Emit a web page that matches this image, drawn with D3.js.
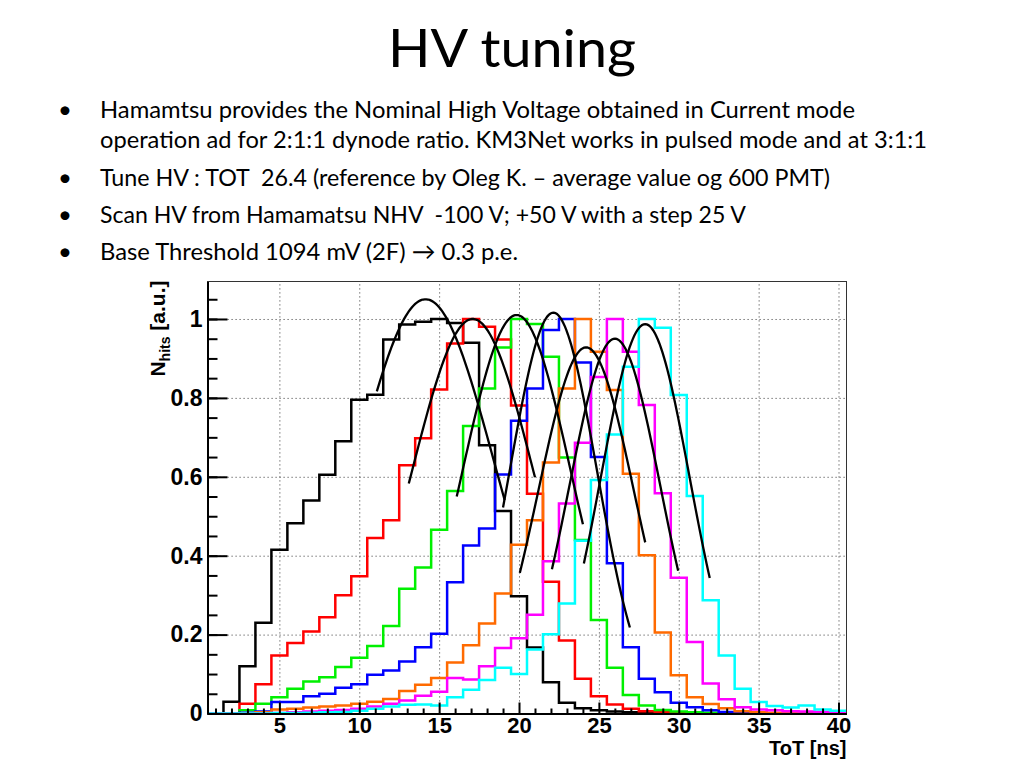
<!DOCTYPE html>
<html><head><meta charset="utf-8">
<script src="https://cdn.jsdelivr.net/npm/d3@7"></script>
<style>body{margin:0;background:#fff}svg{display:block}</style>
</head><body>
<svg id="c" width="1024" height="768"></svg>
<script>
// ---------- data ----------
const binCenters = [1,2,3,4,5,6,7,8,9,10,11,12,13,14,15,16,17,18,19,20,21,22,23,24,25,26,27,28,29,30,31,32,33,34,35,36,37,38,39,40];
const histBlack   = [0,0.03,0.12,0.23,0.415,0.482,0.54,0.605,0.69,0.795,0.808,0.948,0.986,0.993,1.0,0.99,0.94,0.68,0.513,0.297,0.167,0.079,0.027,0.013,0.008,0.005,0.003,0.002,0.001,0,0,0,0,0,0,0,0,0,0,0];
const histRed     = [0,0,0.025,0.074,0.147,0.179,0.208,0.244,0.3,0.348,0.445,0.49,0.629,0.698,0.821,0.938,1.0,0.98,0.948,0.781,0.557,0.334,0.185,0.088,0.044,0.023,0.012,0.006,0.003,0.002,0.001,0,0,0,0,0,0,0,0,0];
const histGreen   = [0,0,0.008,0.025,0.041,0.063,0.081,0.092,0.118,0.141,0.171,0.222,0.316,0.37,0.466,0.564,0.729,0.824,0.928,1.0,0.987,0.904,0.649,0.44,0.237,0.116,0.047,0.02,0.009,0.005,0.003,0.002,0.001,0,0,0,0,0,0,0];
const histBlue    = [0,0,0.002,0.005,0.029,0.029,0.044,0.05,0.065,0.074,0.098,0.109,0.132,0.168,0.202,0.333,0.426,0.469,0.606,0.742,0.824,0.972,1.0,0.89,0.65,0.381,0.168,0.088,0.054,0.027,0.016,0.008,0.004,0.002,0.001,0,0,0,0,0];
const histOrange  = [0,0,0,0.003,0.01,0.012,0.015,0.018,0.02,0.025,0.03,0.037,0.057,0.073,0.09,0.129,0.173,0.228,0.304,0.428,0.49,0.636,0.824,1.0,0.917,0.82,0.608,0.401,0.205,0.097,0.041,0.024,0.013,0.006,0.003,0.002,0.001,0,0,0];
const histMagenta = [0,0,0,0,0.001,0.003,0.005,0.007,0.009,0.012,0.018,0.025,0.033,0.045,0.055,0.09,0.086,0.12,0.166,0.191,0.25,0.386,0.532,0.686,0.853,1.0,0.917,0.782,0.558,0.344,0.181,0.076,0.036,0.016,0.01,0.008,0.006,0.005,0.004,0.003];
const histCyan    = [0,0,0,0,0.001,0.001,0.002,0.003,0.004,0.007,0.012,0.018,0.022,0.023,0.02,0.041,0.06,0.085,0.116,0.1,0.162,0.201,0.279,0.438,0.592,0.707,0.879,1.0,0.978,0.807,0.551,0.287,0.147,0.063,0.029,0.019,0.015,0.02,0.01,0.007];
const seriesColors = ["#000000","#ff0000","#00f000","#0000ff","#ff6a00","#ff00ff","#00ffff"];
// Gaussian fits: amplitude, mean, sigma, fit range
const fitAmp   = [1.05, 1.0, 1.01, 1.016, 0.928, 0.95, 0.987];
const fitMean  = [14.15, 17.1, 19.85, 22.15, 24.2, 26.0, 27.9];
const fitSigma = [4.3, 3.85, 3.4, 2.73, 3.0, 2.85, 2.78];
const fitMin   = [11.1, 13.1, 16.1, 19.0, 20.05, 22.06, 24.06];
const fitMax   = [19.1, 21.0, 24.0, 26.94, 27.9, 29.96, 31.94];
const xTicks = [5,10,15,20,25,30,35,40];
const yTicks = [0,0.2,0.4,0.6,0.8,1];
const yTickLabels = ["0","0.2","0.4","0.6","0.8","1"];
const titleText = "HV tuning";
const bullets = [
  {t:"Hamamtsu provides the Nominal High Voltage obtained in Current mode", b:true},
  {t:"operation ad for 2:1:1 dynode ratio. KM3Net works in pulsed mode and at 3:1:1", b:false},
  {t:"Tune HV : TOT  26.4 (reference by Oleg K. \u2013 average value og 600 PMT)", b:true},
  {t:"Scan HV from Hamamatsu NHV  -100 V; +50 V with a step 25 V", b:true},
  {t:"Base Threshold 1094 mV (2F) \u2192 0.3 p.e.", b:true}
];
const bulletBaselines = [118, 148, 186, 223, 260];
const bulletWidths = [755, 827, 730, 646, 418];

// ---------- layout ----------
const svg = d3.select("#c");
const F = {left:207.5, right:846.5, top:281.5, bottom:713.5};
const x = d3.scaleLinear().domain([0.5, 40.5]).range([F.left, F.right]);
const y = d3.scaleLinear().domain([0, 1.095]).range([F.bottom, F.top]);

// title
svg.append("text").attr("x",512).attr("y",67).attr("text-anchor","middle")
  .attr("font-family","Lato, 'Open Sans', sans-serif").attr("font-size",53)
  .attr("textLength",248).attr("lengthAdjust","spacingAndGlyphs")
  .text(titleText);

// bullets
bullets.forEach((d,i)=>{
  if(d.b) svg.append("text").attr("x",58).attr("y",bulletBaselines[i])
    .attr("font-family","Lato, sans-serif").attr("font-size",24).text("\u2022");
  svg.append("text").attr("x",100).attr("y",bulletBaselines[i])
    .attr("font-family","Lato, 'Open Sans', sans-serif").attr("font-size",23.5)
    .style("white-space","pre")
    .attr("textLength",bulletWidths[i]).attr("lengthAdjust","spacingAndGlyphs")
    .text(d.t);
});

// grid
const g = svg.append("g");
g.append("g").attr("transform",`translate(0,${F.bottom})`)
  .call(d3.axisBottom(x).tickValues(xTicks).tickSize(-(F.bottom-F.top)).tickFormat(""))
  .call(s=>{s.select(".domain").remove(); s.selectAll("line").attr("stroke","#555").attr("stroke-dasharray","1.2,2.8");});
g.append("g").attr("transform",`translate(${F.left},0)`)
  .call(d3.axisLeft(y).tickValues([0.2,0.4,0.6,0.8,1]).tickSize(-(F.right-F.left)).tickFormat(""))
  .call(s=>{s.select(".domain").remove(); s.selectAll("line").attr("stroke","#555").attr("stroke-dasharray","1.2,2.8");});

// histograms
const hists = [histBlack, histRed, histGreen, histBlue, histOrange, histMagenta, histCyan];
hists.forEach((vals,k)=>{
  const pts = [[x(binCenters[0]-0.5), y(0)]];
  vals.forEach((v,i)=>{
    pts.push([x(binCenters[i]-0.5), y(v)]);
    pts.push([x(binCenters[i]+0.5), y(v)]);
  });
  svg.append("path").attr("d", d3.line()(pts)).attr("fill","none")
    .attr("stroke", seriesColors[k]).attr("stroke-width",2.5).attr("stroke-linejoin","miter");
});

// fit curves
fitMean.forEach((m,k)=>{
  const xs = d3.range(0,81).map(j=>fitMin[k] + (fitMax[k]-fitMin[k])*j/80);
  const pts = xs.map(t=>[x(t), y(fitAmp[k]*Math.exp(-0.5*Math.pow((t-m)/fitSigma[k],2)))]);
  svg.append("path").attr("d", d3.line()(pts)).attr("fill","none")
    .attr("stroke","#000").attr("stroke-width",2.3);
});

// frame
svg.append("rect").attr("x",F.left).attr("y",F.top).attr("width",F.right-F.left).attr("height",F.bottom-F.top)
  .attr("fill","none").attr("stroke","#333").attr("stroke-width",1);

// axes (ticks inside, ROOT style)
const axFont = "'Liberation Sans', Arial, Helvetica, sans-serif";
const yMinor = d3.range(0,1.1,0.05).filter(v=>v<1.09);
svg.append("g").attr("transform",`translate(${F.left},0)`)
  .call(d3.axisLeft(y).tickValues(yMinor).tickSizeInner(-10).tickSizeOuter(0).tickFormat(""))
  .call(s=>{s.select(".domain").attr("stroke","#000").attr("stroke-width",2); s.selectAll("line").attr("stroke","#000").attr("stroke-width",2);});
svg.append("g").attr("transform",`translate(${F.left},0)`)
  .call(d3.axisLeft(y).tickValues(yTicks).tickSizeInner(-20).tickSizeOuter(0).tickPadding(5)
        .tickFormat((d,i)=>yTickLabels[i]))
  .call(s=>{s.select(".domain").remove(); s.selectAll("line").attr("stroke","#000").attr("stroke-width",2);
    s.selectAll("text").attr("font-family",axFont).attr("font-weight","bold").attr("font-size",23).attr("fill","#000");});
const xMinor = binCenters.filter(v=>v%5!==0);
svg.append("g").attr("transform",`translate(0,${F.bottom})`)
  .call(d3.axisBottom(x).tickValues(xMinor).tickSizeInner(-5).tickSizeOuter(0).tickFormat(""))
  .call(s=>{s.select(".domain").attr("stroke","#000").attr("stroke-width",2); s.selectAll("line").attr("stroke","#000").attr("stroke-width",2);});
svg.append("g").attr("transform",`translate(0,${F.bottom})`)
  .call(d3.axisBottom(x).tickValues(xTicks).tickSizeInner(-11).tickSizeOuter(0).tickPadding(4))
  .call(s=>{s.select(".domain").remove(); s.selectAll("line").attr("stroke","#000").attr("stroke-width",2);
    s.selectAll("text").attr("font-family",axFont).attr("font-weight","bold").attr("font-size",22).attr("fill","#000");});

// axis titles
svg.append("text").attr("x",F.right).attr("y",755).attr("text-anchor","end")
  .attr("font-family",axFont).attr("font-weight","bold").attr("font-size",20).text("ToT [ns]");
const yl = svg.append("text").attr("transform",`translate(165,${F.top - 1})rotate(-90)`).attr("text-anchor","end")
  .attr("font-family",axFont).attr("font-weight","bold").attr("font-size",21);
yl.append("tspan").text("N");
yl.append("tspan").attr("font-size",14).attr("dy",5).text("hits");
yl.append("tspan").attr("dy",-5).text(" [a.u.]");
</script>
</body></html>
